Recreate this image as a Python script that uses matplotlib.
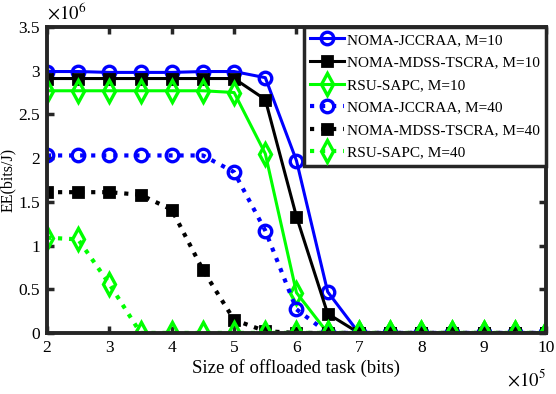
import numpy as np
import matplotlib
matplotlib.use("Agg")
import matplotlib.pyplot as plt
from matplotlib.ticker import FuncFormatter, MultipleLocator

plt.rcParams["font.family"] = ["Liberation Serif", "DejaVu Serif"]
plt.rcParams["mathtext.fontset"] = "stix"

# task size (bits)
task_size = [2e5, 2.5e5, 3e5, 3.5e5, 4e5, 4.5e5, 5e5, 5.5e5, 6e5,
             6.5e5, 7e5, 7.5e5, 8e5, 8.5e5, 9e5, 9.5e5, 10e5]

# energy efficiency (bits/J)
jccraa_m10 = [2.99e6, 2.99e6, 2.98e6, 2.98e6, 2.98e6, 2.99e6, 2.99e6, 2.92e6, 1.97e6,
              0.47e6, 0, 0, 0, 0, 0, 0, 0]
mdss_m10 = [2.91e6, 2.91e6, 2.91e6, 2.91e6, 2.91e6, 2.91e6, 2.91e6, 2.67e6, 1.33e6,
            0.22e6, 0, 0, 0, 0, 0, 0, 0]
sapc_m10 = [2.77e6, 2.77e6, 2.77e6, 2.77e6, 2.77e6, 2.77e6, 2.75e6, 2.05e6, 0.46e6,
            0, 0, 0, 0, 0, 0, 0, 0]
jccraa_m40 = [2.03e6, 2.03e6, 2.03e6, 2.03e6, 2.03e6, 2.03e6, 1.84e6, 1.17e6, 0.27e6,
              0, 0, 0, 0, 0, 0, 0, 0]
mdss_m40 = [1.61e6, 1.61e6, 1.61e6, 1.58e6, 1.41e6, 0.72e6, 0.15e6, 0.02e6, 0,
            0, 0, 0, 0, 0, 0, 0, 0]
sapc_m40 = [1.09e6, 1.07e6, 0.56e6, 0, 0, 0, 0, 0, 0,
            0, 0, 0, 0, 0, 0, 0, 0]

labels = ["NOMA-JCCRAA, M=10", "NOMA-MDSS-TSCRA, M=10", "RSU-SAPC, M=10",
          "NOMA-JCCRAA, M=40", "NOMA-MDSS-TSCRA, M=40", "RSU-SAPC, M=40"]

fig = plt.figure(figsize=(5.56, 3.94), dpi=100)
ax = fig.add_axes([0.0845, 0.155, 0.8975, 0.7766])

blue, black, green = "#0000ff", "#000000", "#00ff00"
lw = 2.2
ax.plot(task_size, jccraa_m10, "-o", color=blue, lw=lw, ms=9, mfc="none", mew=2.4, label=labels[0])
ax.plot(task_size, mdss_m10, "-s", color=black, lw=lw, ms=7, mfc=black, mew=2, label=labels[1])
ax.plot(task_size, sapc_m10, "-d", color=green, lw=lw, ms=11, mfc="none", mew=2.4, label=labels[2])
ax.plot(task_size, jccraa_m40, ":o", color=blue, lw=3, ms=9, mfc="none", mew=2.4, label=labels[3])
ax.plot(task_size, mdss_m40, ":s", color=black, lw=3, ms=7, mfc=black, mew=2, label=labels[4])
ax.plot(task_size, sapc_m40, ":d", color=green, lw=3, ms=11, mfc="none", mew=2.4, label=labels[5])

ax.set_xlim(2e5, 10e5)
ax.set_ylim(0, 3.5e6)
ax.xaxis.set_major_locator(MultipleLocator(1e5))
ax.yaxis.set_major_locator(MultipleLocator(0.5e6))
ax.xaxis.set_major_formatter(FuncFormatter(lambda v, p: "%g" % (v / 1e5)))
ax.yaxis.set_major_formatter(FuncFormatter(lambda v, p: "%g" % (v / 1e6)))
ax.tick_params(direction="in", top=True, right=True, length=5, width=2.5,
               color="#262626", labelsize=12.5, pad=5)
for s in ax.spines.values():
    s.set_linewidth(2.8)
    s.set_color("#262626")

ax.text(0.0, 1.01, r"$\times10^{6}$", transform=ax.transAxes, fontsize=13.5,
        ha="left", va="bottom")
ax.text(1.0, -0.115, r"$\times10^{5}$", transform=ax.transAxes, fontsize=13.5,
        ha="right", va="top")

ax.set_xlabel("Size of offloaded task (bits)", fontsize=13.5, labelpad=2)
ax.set_ylabel("EE(bits/J)", fontsize=11.5, labelpad=2)

leg = ax.legend(loc="upper right", fontsize=11, handlelength=2.2, handletextpad=0.2,
                labelspacing=0.58, borderpad=0.4, borderaxespad=0.0, fancybox=False,
                framealpha=1)
leg.get_frame().set_edgecolor("#262626")
leg.get_frame().set_linewidth(2.5)

plt.savefig("out.png", dpi=100)
